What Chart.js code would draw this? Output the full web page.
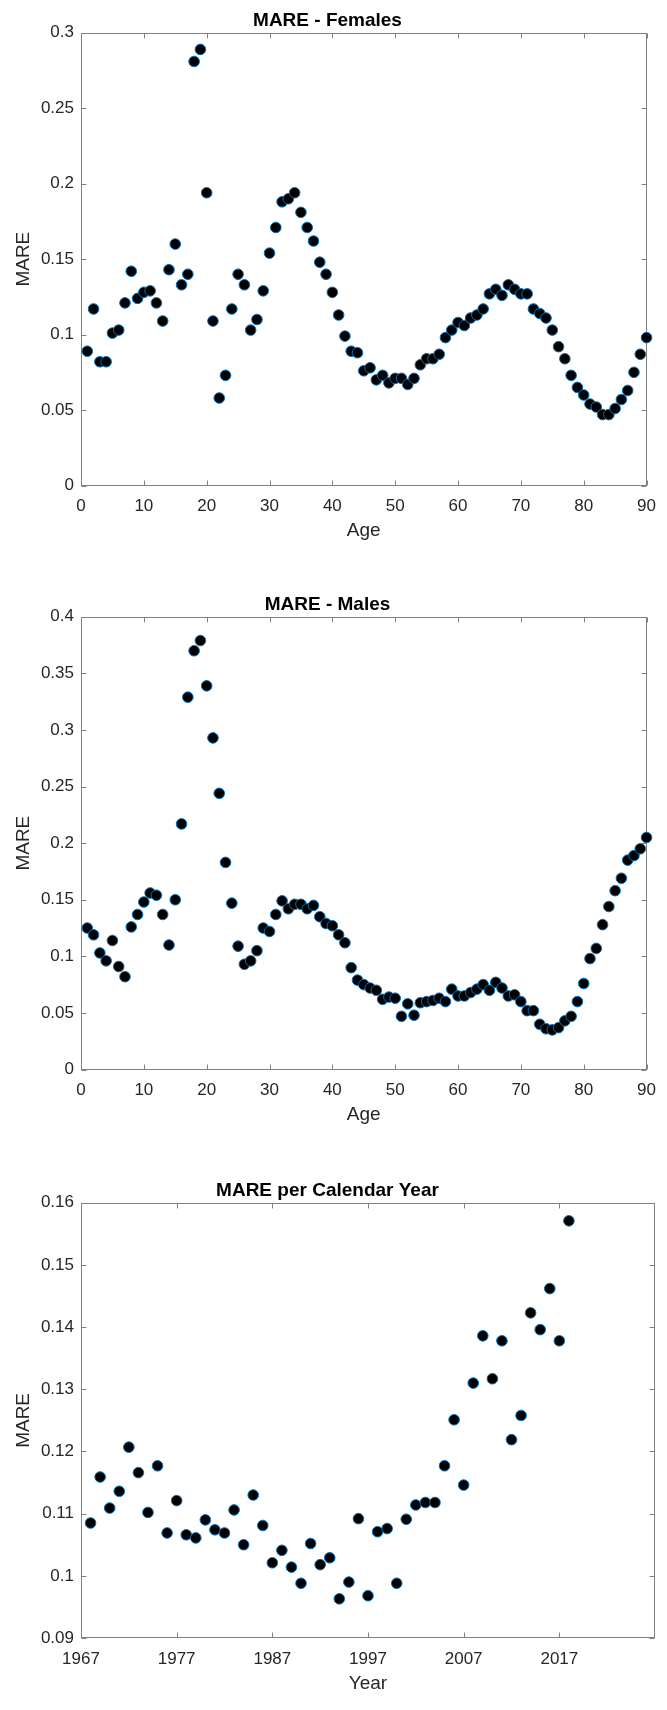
<!DOCTYPE html>
<html>
<head>
<meta charset="utf-8">
<script src="https://cdn.jsdelivr.net/npm/chart.js@4/dist/chart.umd.min.js"></script>
<style>
    body { margin: 0; background: #fff; width: 667px; height: 1710px; overflow: hidden; position: relative; }
    canvas { position: absolute; left: 0; }
</style>
</head>
<body>
<canvas id="females" width="667" height="560" style="top:0px"></canvas>
<canvas id="males" width="667" height="560" style="top:584px"></canvas>
<canvas id="years" width="667" height="543" style="top:1170px"></canvas>
<script>
// ages 1..90 (x for both age charts)
let ages = [1,2,3,4,5,6,7,8,9,10,11,12,13,14,15,16,17,18,19,20,
    21,22,23,24,25,26,27,28,29,30,31,32,33,34,35,36,37,38,39,40,
    41,42,43,44,45,46,47,48,49,50,51,52,53,54,55,56,57,58,59,60,
    61,62,63,64,65,66,67,68,69,70,71,72,73,74,75,76,77,78,79,80,
    81,82,83,84,85,86,87,88,89,90];

let mareFemales = [0.089,0.117,0.082,0.082,0.101,0.103,0.121,0.142,0.124,0.128,
    0.129,0.121,0.109,0.143,0.160,0.133,0.140,0.281,0.289,0.194,
    0.109,0.058,0.073,0.117,0.140,0.133,0.103,0.110,0.129,0.154,
    0.171,0.188,0.190,0.194,0.181,0.171,0.162,0.148,0.140,0.128,
    0.113,0.099,0.089,0.088,0.076,0.078,0.070,0.073,0.068,0.071,
    0.071,0.067,0.071,0.080,0.084,0.084,0.087,0.098,0.103,0.108,
    0.106,0.111,0.113,0.117,0.127,0.130,0.126,0.133,0.130,0.127,
    0.127,0.117,0.114,0.111,0.103,0.092,0.084,0.073,0.065,0.060,
    0.054,0.052,0.047,0.047,0.051,0.057,0.063,0.075,0.087,0.098];

let mareMales = [0.125,0.119,0.103,0.096,0.114,0.091,0.082,0.126,0.137,0.148,
    0.156,0.154,0.137,0.110,0.150,0.217,0.329,0.370,0.379,0.339,
    0.293,0.244,0.183,0.147,0.109,0.093,0.096,0.105,0.125,0.122,
    0.137,0.149,0.142,0.146,0.146,0.142,0.145,0.135,0.129,0.127,
    0.119,0.112,0.090,0.079,0.075,0.072,0.070,0.062,0.064,0.063,
    0.047,0.058,0.048,0.059,0.060,0.061,0.063,0.060,0.071,0.065,
    0.065,0.068,0.071,0.075,0.070,0.077,0.072,0.065,0.066,0.060,
    0.052,0.052,0.040,0.036,0.035,0.037,0.043,0.047,0.060,0.076,
    0.098,0.107,0.128,0.144,0.158,0.169,0.185,0.189,0.195,0.205];

let years = [1968,1969,1970,1971,1972,1973,1974,1975,1976,1977,
    1978,1979,1980,1981,1982,1983,1984,1985,1986,1987,
    1988,1989,1990,1991,1992,1993,1994,1995,1996,1997,
    1998,1999,2000,2001,2002,2003,2004,2005,2006,2007,
    2008,2009,2010,2011,2012,2013,2014,2015,2016,2017,
    2018];

let mareYears = [0.1085,0.1159,0.1109,0.1136,0.1207,0.1166,0.1102,0.1177,0.1069,0.1121,
    0.1066,0.1061,0.1090,0.1074,0.1069,0.1106,0.1050,0.1130,0.1081,0.1021,
    0.1041,0.1014,0.0988,0.1052,0.1018,0.1029,0.0963,0.0990,0.1092,0.0968,
    0.1071,0.1076,0.0988,0.1091,0.1114,0.1118,0.1118,0.1177,0.1251,0.1146,
    0.1310,0.1386,0.1317,0.1378,0.1219,0.1258,0.1423,0.1396,0.1462,0.1378,
    0.1571];

// tick labels
let ageTicks = [0,10,20,30,40,50,60,70,80,90];
let yearTicks = [1967,1977,1987,1997,2007,2017];
let femaleTicks = [0,0.05,0.1,0.15,0.2,0.25,0.3];
let maleTicks = [0,0.05,0.1,0.15,0.2,0.25,0.3,0.35,0.4];
let yearMareTicks = [0.09,0.1,0.11,0.12,0.13,0.14,0.15,0.16];

const FONT = "'Liberation Sans', Arial, Helvetica, sans-serif";
const lineColor = "#808080";
const textColor = "#262626";

// matlab style box with inward ticks on all sides
const boxPlugin = {
    id: "box",
    beforeDatasetsDraw(chart) {
        let ctx = chart.ctx;
        let a = chart.chartArea;
        let x = chart.scales.x, y = chart.scales.y;
        let L = Math.round(a.left) + 0.5, R = Math.round(a.right) - 0.5;
        let T = Math.round(a.top) + 0.5, B = Math.round(a.bottom) - 0.5;
        ctx.save();
        ctx.strokeStyle = lineColor;
        ctx.lineWidth = 1;
        ctx.strokeRect(L, T, R - L, B - T);
        ctx.beginPath();
        x.ticks.forEach(t => {
            let px = Math.round(x.getPixelForValue(t.value)) + 0.5;
            ctx.moveTo(px, B); ctx.lineTo(px, B - 5);
            ctx.moveTo(px, T); ctx.lineTo(px, T + 5);
        });
        y.ticks.forEach(t => {
            let py = Math.round(y.getPixelForValue(t.value)) + 0.5;
            ctx.moveTo(L, py); ctx.lineTo(L + 5, py);
            ctx.moveTo(R, py); ctx.lineTo(R - 5, py);
        });
        ctx.stroke();
        ctx.restore();
    }
};

function makeChart(id, xs, ys, xMin, xMax, xTicks, yMin, yMax, yTicks, title, xTitle, xHeight) {
    let points = xs.map((v, i) => ({ x: v, y: ys[i] }));
    return new Chart(document.getElementById(id), {
        type: "scatter",
        data: {
            datasets: [{
                data: points,
                clip: false,
                pointRadius: 5.3,
                pointHoverRadius: 5.3,
                pointBackgroundColor: "#000",
                pointBorderColor: "#0072BD",
                pointBorderWidth: 1
            }]
        },
        options: {
            responsive: false,
            animation: false,
            events: [],
            layout: { padding: { top: 9, right: 12, left: 0, bottom: 0 } },
            plugins: {
                legend: { display: false },
                tooltip: { enabled: false },
                title: {
                    display: true,
                    text: title,
                    color: "#000",
                    font: { family: FONT, size: 19, weight: "bold" },
                    padding: { top: 0, bottom: 1 }
                }
            },
            scales: {
                x: {
                    type: "linear",
                    min: xMin, max: xMax,
                    grid: { display: false, drawTicks: false },
                    border: { display: false },
                    afterBuildTicks: s => { s.ticks = xTicks.map(v => ({ value: v })); },
                    afterFit: s => { s.height = xHeight; },
                    ticks: {
                        padding: 11,
                        color: textColor,
                        font: { family: FONT, size: 17 },
                        maxRotation: 0,
                        callback: v => String(v)
                    },
                    title: {
                        display: true,
                        text: xTitle,
                        color: textColor,
                        font: { family: FONT, size: 19 },
                        padding: { top: 0, bottom: 17.5 }
                    }
                },
                y: {
                    type: "linear",
                    min: yMin, max: yMax,
                    grid: { display: false, drawTicks: false },
                    border: { display: false },
                    afterBuildTicks: s => { s.ticks = yTicks.map(v => ({ value: v })); },
                    afterFit: s => { s.width = 81; },
                    ticks: {
                        padding: 7,
                        color: textColor,
                        font: { family: FONT, size: 17 },
                        callback: v => String(v)
                    },
                    title: {
                        display: true,
                        text: "MARE",
                        color: textColor,
                        font: { family: FONT, size: 19 },
                        padding: { top: 12, bottom: 0 }
                    }
                }
            }
        },
        plugins: [boxPlugin]
    });
}

makeChart("females", ages, mareFemales, 0, 90, ageTicks, 0, 0.3, femaleTicks, "MARE - Females", "Age", 74.5);
makeChart("males", ages, mareMales, 0, 90, ageTicks, 0, 0.4, maleTicks, "MARE - Males", "Age", 74.5);
makeChart("years", years, mareYears, 1967, 2027, yearTicks, 0.09, 0.16, yearMareTicks, "MARE per Calendar Year", "Year", 75);
</script>
</body>
</html>
